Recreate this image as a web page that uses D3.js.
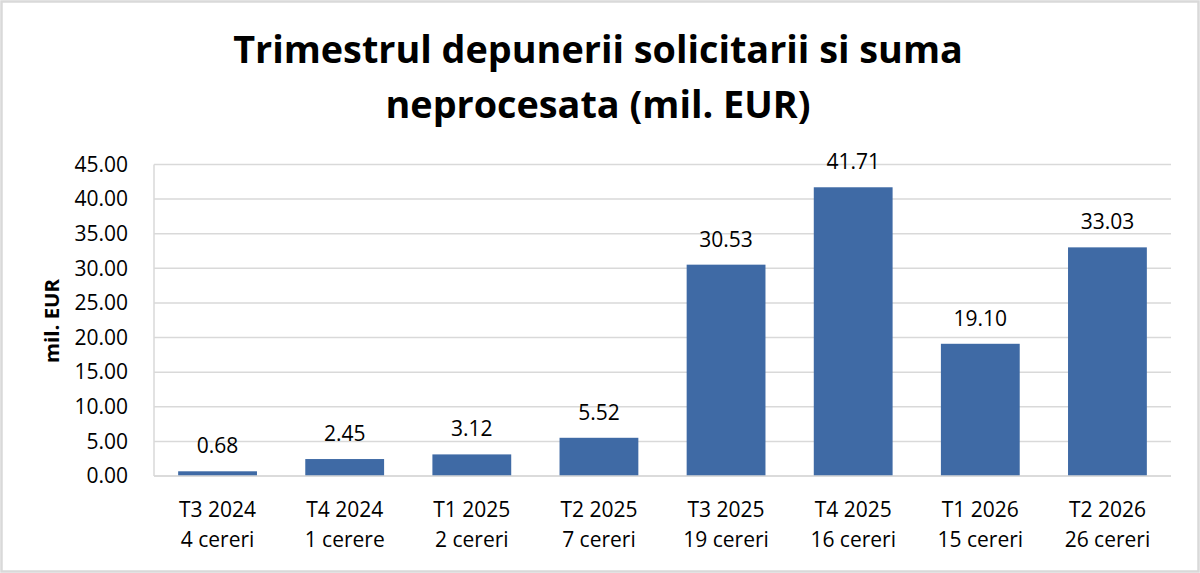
<!DOCTYPE html>
<html><head><meta charset="utf-8">
<script src="https://cdn.jsdelivr.net/npm/d3@7"></script>
<style>html,body{margin:0;padding:0;background:#fff;}svg{display:block;}</style>
</head><body>
<svg id="c" width="1200" height="573"></svg>
<script>
const categories = ["T3 2024","T4 2024","T1 2025","T2 2025","T3 2025","T4 2025","T1 2026","T2 2026"];
const requests = ["4 cereri","1 cerere","2 cereri","7 cereri","19 cereri","16 cereri","15 cereri","26 cereri"];
const values = [0.68, 2.45, 3.12, 5.52, 30.53, 41.71, 19.10, 33.03];
const yTicks = [0,5,10,15,20,25,30,35,40,45];
const titleLines = ["Trimestrul depunerii solicitarii si suma","neprocesata (mil. EUR)"];
const yTitle = "mil. EUR";

const W=1200,H=573;
const m={left:154,right:1171,top:164.5,bottom:476};
const font="'Open Sans', sans-serif";
const svg=d3.select("#c");
svg.append("rect").attr("x",1.5).attr("y",1.5).attr("width",W-3).attr("height",H-3)
  .attr("fill","#fff").attr("stroke","#d9d9d9").attr("stroke-width",2.5);

const x=d3.scaleBand().domain(categories).range([m.left,m.right]).paddingInner(0.38).paddingOuter(0.19);
const y=d3.scaleLinear().domain([0,45]).range([m.bottom,m.top]);

// grid
svg.append("g").selectAll("line").data(yTicks).join("line")
  .attr("x1",m.left).attr("x2",m.right).attr("y1",d=>y(d)).attr("y2",d=>y(d))
  .attr("stroke","#d9d9d9").attr("stroke-width",1.5);
svg.append("line").attr("x1",m.left).attr("x2",m.left).attr("y1",m.top).attr("y2",m.bottom)
  .attr("stroke","#d9d9d9").attr("stroke-width",1.5);

// y axis
const ya=svg.append("g").attr("transform",`translate(${m.left},0)`)
  .call(d3.axisLeft(y).tickValues(yTicks).tickFormat(d3.format(".2f")).tickSize(0).tickPadding(26));
ya.select(".domain").remove();
ya.selectAll("text").attr("font-family",font).attr("font-size",21).attr("fill","#000");

// bars
svg.append("g").selectAll("rect").data(values).join("rect")
  .attr("x",(d,i)=>x(categories[i])).attr("width",x.bandwidth())
  .attr("y",d=>y(d)).attr("height",d=>y(0)-y(d)).attr("fill","#3f6aa5");

// value labels
svg.append("g").selectAll("text").data(values).join("text")
  .attr("x",(d,i)=>x(categories[i])+x.bandwidth()/2).attr("y",d=>y(d)-18)
  .attr("text-anchor","middle").attr("font-family",font).attr("font-size",21).attr("fill","#000")
  .text(d=>d3.format(".2f")(d));

// x labels
const xl=svg.append("g").selectAll("text").data(categories).join("text")
  .attr("text-anchor","middle").attr("font-family",font).attr("font-size",21).attr("fill","#000");
xl.append("tspan").attr("x",d=>x(d)+x.bandwidth()/2).attr("y",517).text(d=>d);
xl.append("tspan").attr("x",d=>x(d)+x.bandwidth()/2).attr("y",547).text((d,i)=>requests[i]);

// bottom axis line
svg.append("line").attr("x1",m.left).attr("x2",m.right).attr("y1",m.bottom).attr("y2",m.bottom)
  .attr("stroke","#d9d9d9").attr("stroke-width",1.5);

// y title
const yt=svg.append("text").attr("transform","translate(59,321) rotate(-90)").attr("text-anchor","middle")
  .attr("font-family",font).attr("font-weight",700).attr("font-size",20).attr("fill","#000").text(yTitle);
const yw=yt.node().getComputedTextLength();
yt.attr("font-size",20*84/yw);

// title
const t=svg.append("text").attr("text-anchor","middle").attr("font-family",font).attr("font-weight",700)
  .attr("font-size",40).attr("fill","#000");
t.selectAll("tspan").data(titleLines).join("tspan").attr("x",598).attr("y",(d,i)=>63+i*55).text(d=>d);
const w=t.select("tspan").node().getComputedTextLength();
t.attr("font-size",40*730/w);
</script>
</body></html>
